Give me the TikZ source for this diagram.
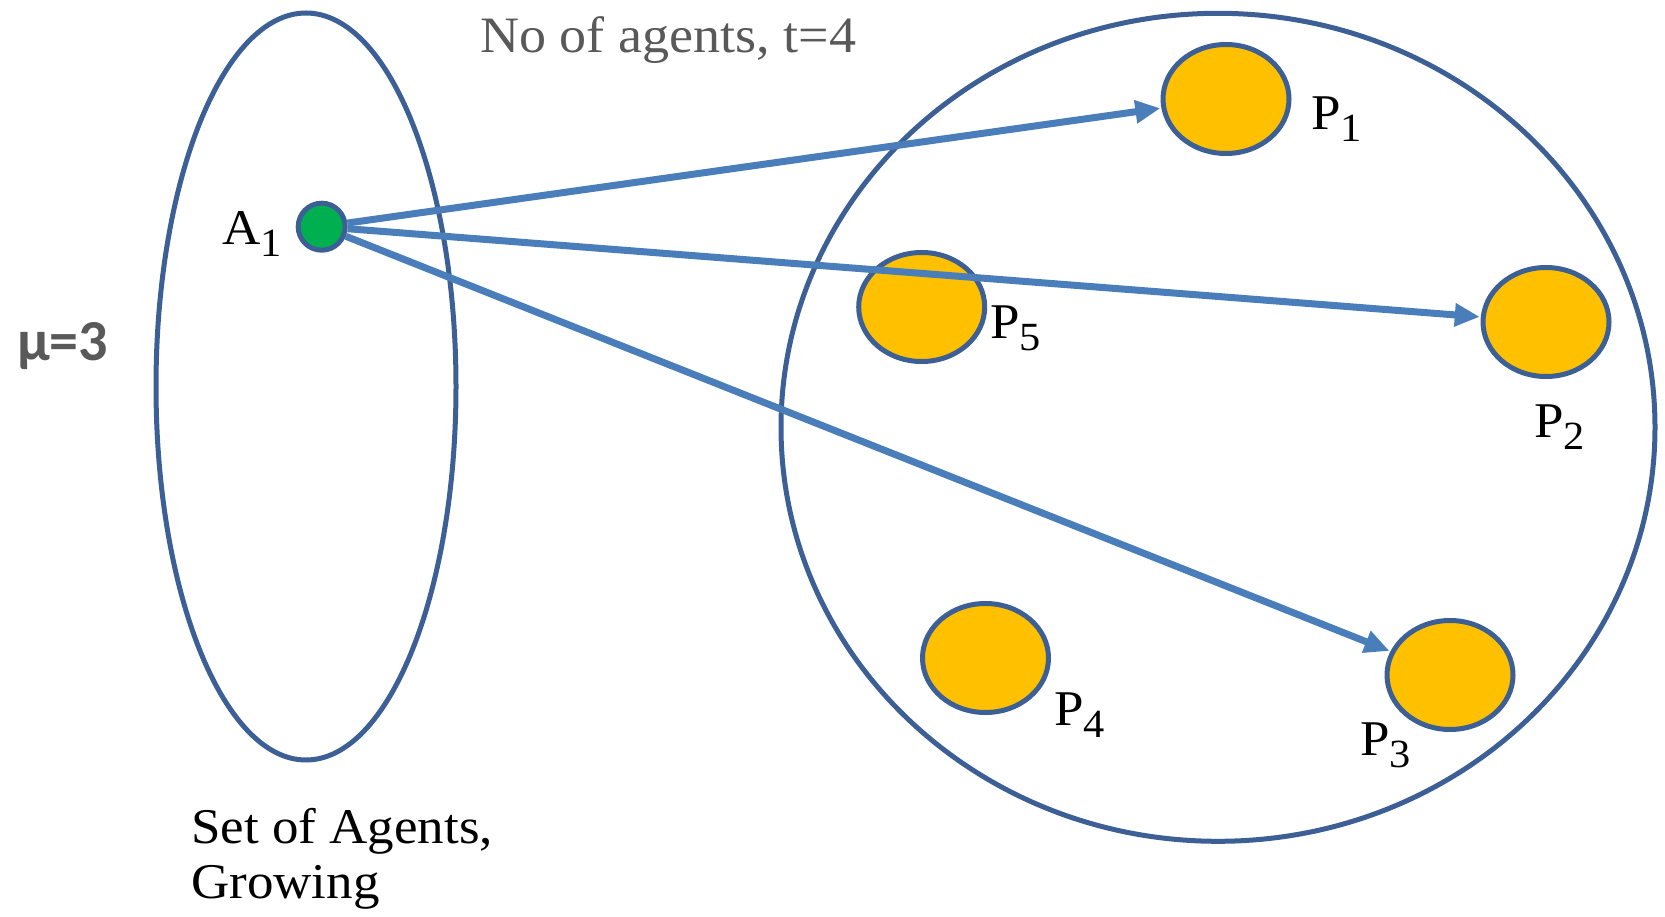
\documentclass[tikz,border=0pt]{standalone}
\usepackage{fontspec}
\setmainfont{Liberation Serif}[FakeStretch=1.06]
\newfontfamily\calib{Carlito}
\usetikzlibrary{shapes.geometric,arrows.meta}
\definecolor{outl}{HTML}{3C6096}
\definecolor{arr}{HTML}{4A7EBB}
\definecolor{pfill}{HTML}{FFC000}
\definecolor{agreen}{HTML}{00B050}
\definecolor{txtgray}{HTML}{595959}
\newcommand\subs[1]{\raisebox{-12pt}{\fontsize{40}{40}\selectfont #1}}
\tikzset{
  region/.style={ellipse, draw=outl, line width=5pt, inner sep=0pt},
  pnode/.style={ellipse, draw=outl, fill=pfill, line width=5pt, inner sep=0pt, minimum width=126pt, minimum height=109pt},
  anode/.style={circle, draw=outl, fill=agreen, line width=5pt, inner sep=0pt, minimum size=47pt},
  lbl/.style={inner sep=0pt, anchor=base west, font=\fontsize{50}{55}\selectfont},
  conn/.style={draw=arr, line width=7pt, -{Triangle[length=25pt,width=22pt]}, shorten >=1pt}
}
\begin{document}
\begin{tikzpicture}[x=1pt,y=-1pt]
\useasboundingbox[fill=white] (0,0) rectangle (1665,917);
% regions
\node[region, minimum width=300pt, minimum height=747pt] (agents) at (306,386.5) {};
\node[region, minimum width=874pt, minimum height=828pt] (pool) at (1218,427.3) {};
% agent
\node[anode] (A1) at (321.7,226.7) {};
% P nodes
\node[pnode] (P1) at (1226,99) {};
\node[pnode] (P5) at (921.7,307) {};
\node[pnode] (P2) at (1546,322) {};
\node[pnode] (P4) at (985.5,658) {};
\node[pnode] (P3) at (1450,675) {};
% connectors
\draw[conn] (A1) -- (P1);
\draw[conn] (A1) -- (P2);
\draw[conn] (A1) -- (P3);
% labels
\node[lbl] (lA1) at (222,245) {A\subs{1}};
\node[lbl] (lP1) at (1311,130) {P\subs{1}};
\node[lbl] (lP5) at (990,338) {P\subs{5}};
\node[lbl] (lP2) at (1534,437) {P\subs{2}};
\node[lbl] (lP4) at (1054,725) {P\subs{4}};
\node[lbl] (lP3) at (1360,755) {P\subs{3}};
\node[lbl, text=txtgray, font=\fontsize{51}{55}\selectfont] (title) at (480,53) {No of agents, t=4};
\node[lbl, text=txtgray, font=\calib\bfseries\fontsize{58}{60}\selectfont] (mu) at (17,360) {μ=3};
\node[lbl] (set1) at (191,843) {Set of Agents,};
\node[lbl] (set2) at (191,898) {Growing};
\end{tikzpicture}
\end{document}
